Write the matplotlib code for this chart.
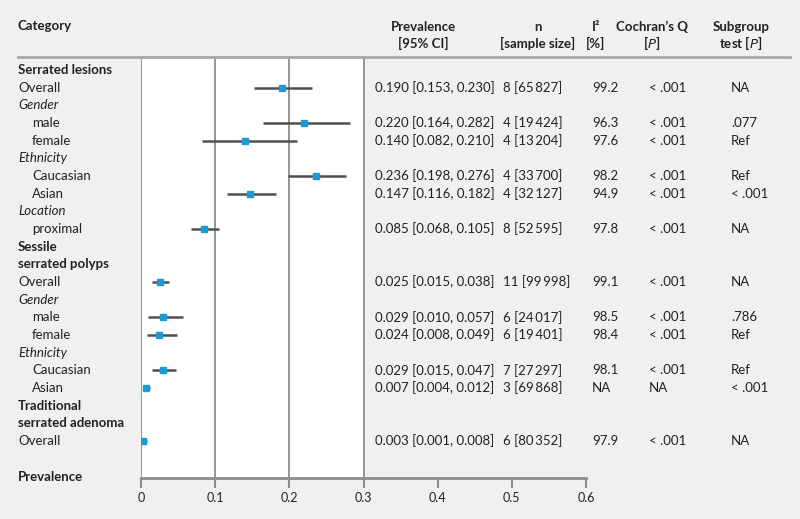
import matplotlib
matplotlib.use("Agg")
import matplotlib.pyplot as plt
import matplotlib.transforms as mtransforms
from matplotlib.lines import Line2D

plt.rcParams['font.family'] = ['Lato', 'DejaVu Sans']

# rows of the table: (label, kind); kind "item"/"sub" rows carry an estimate
rows = [("Serrated lesions", "head"), ("Overall", "item"), ("Gender", "group"),
        ("male", "sub"), ("female", "sub"), ("Ethnicity", "group"),
        ("Caucasian", "sub"), ("Asian", "sub"), ("Location", "group"),
        ("proximal", "sub"), ("Sessile", "head"), ("serrated polyps", "head"),
        ("Overall", "item"), ("Gender", "group"), ("male", "sub"),
        ("female", "sub"), ("Ethnicity", "group"), ("Caucasian", "sub"),
        ("Asian", "sub"), ("Traditional", "head"), ("serrated adenoma", "head"),
        ("Overall", "item")]

est = [0.190, 0.220, 0.140, 0.236, 0.147, 0.085, 0.025, 0.029, 0.024, 0.029, 0.007, 0.003]
lo = [0.153, 0.164, 0.082, 0.198, 0.116, 0.068, 0.015, 0.010, 0.008, 0.015, 0.004, 0.001]
hi = [0.230, 0.282, 0.210, 0.276, 0.182, 0.105, 0.038, 0.057, 0.049, 0.047, 0.012, 0.008]
n_txt = ["8 [65\u2009827]", "4 [19\u2009424]", "4 [13\u2009204]", "4 [33\u2009700]",
         "4 [32\u2009127]", "8 [52\u2009595]", "11 [99\u2009998]", "6 [24\u2009017]",
         "6 [19\u2009401]", "7 [27\u2009297]", "3 [69\u2009868]", "6 [80\u2009352]"]
i2_txt = ["99.2", "96.3", "97.6", "98.2", "94.9", "97.8", "99.1", "98.5", "98.4", "98.1", "NA", "97.9"]
q_txt = ["< .001"] * 10 + ["NA", "< .001"]
sub_txt = ["NA", ".077", "Ref", "Ref", "< .001", "NA", "NA", ".786", "Ref", "Ref", "< .001", "NA"]
xticks = [0, 0.1, 0.2, 0.3, 0.4, 0.5, 0.6]
xticklabels = ["0", "0.1", "0.2", "0.3", "0.4", "0.5", "0.6"]

txtc = "#222222"
gridc = "#8c8c8c"
blue = "#1a9ad6"

fig = plt.figure(figsize=(8, 5.19), dpi=100)
fig.patch.set_facecolor("#f0f0f0")
W, H = 800, 519
ax = fig.add_axes([141 / W, (H - 478) / H, 445 / W, (478 - 58) / H])
ax.set_facecolor("none")
ax.set_xlim(0, 0.6)
ax.set_ylim(21 + (478 - 441) / 17.67, -(70 - 58) / 17.67)

ax.axvspan(0, 0.3, color="white", zorder=0)
for xv in [0, 0.1, 0.2, 0.3]:
    ax.axvline(xv, color=gridc, lw=1.3, zorder=1)

for s in ["top", "right", "left"]:
    ax.spines[s].set_visible(False)
ax.spines["bottom"].set_color(gridc)
ax.spines["bottom"].set_linewidth(2)
ax.set_yticks([])
ax.set_xticks(xticks)
ax.set_xticklabels(xticklabels)
ax.tick_params(axis="x", direction="out", length=7, width=1.5, color=gridc,
               labelsize=9, labelcolor=txtc, pad=3)

tr = mtransforms.blended_transform_factory(fig.transFigure, ax.transData)
fs = 9.5
k = 0
for i, (lab, kind) in enumerate(rows):
    if kind == "head":
        ax.text(18 / W, i, lab, transform=tr, fontsize=fs, fontweight="bold",
                color=txtc, va="center", ha="left")
    elif kind == "group":
        ax.text(18 / W, i, lab, transform=tr, fontsize=fs, style="italic",
                color=txtc, va="center", ha="left")
    else:
        xlab = 18 if kind == "item" else 32
        ax.text(xlab / W, i, lab, transform=tr, fontsize=fs, color=txtc,
                va="center", ha="left")
        ax.plot([lo[k], hi[k]], [i, i], color="#505050", lw=1.8, zorder=3,
                solid_capstyle="butt")
        ax.plot(est[k], i, "s", color=blue, ms=5, zorder=4)
        ax.text(375 / W, i, f"{est[k]:.3f} [{lo[k]:.3f}, {hi[k]:.3f}]", transform=tr,
                fontsize=fs, color=txtc, va="center", ha="left")
        ax.text(503 / W, i, n_txt[k], transform=tr, fontsize=fs, color=txtc,
                va="center", ha="left")
        ax.text(592 / W, i, i2_txt[k], transform=tr, fontsize=fs, color=txtc,
                va="center", ha="left")
        ax.text(649 / W, i, q_txt[k], transform=tr, fontsize=fs, color=txtc,
                va="center", ha="left")
        ax.text(731 / W, i, sub_txt[k], transform=tr, fontsize=fs, color=txtc,
                va="center", ha="left")
        k += 1

ax.text(18 / W, 21 + (477 - 441) / 17.67, "Prevalence", transform=tr, fontsize=fs,
        fontweight="bold", color=txtc, va="center", ha="left")

# header
hdr = [(18, "Category", None, "left"),
       (423, "Prevalence", "[95% CI]", "center"),
       (538, "n", "[sample size]", "center"),
       (596, "I²", "[%]", "center"),
       (652, "Cochran’s Q", "[$\\mathbf{\\it{P}}$]", "center"),
       (741, "Subgroup", "test [$\\mathbf{\\it{P}}$]", "center")]
for x, t1, t2, ha in hdr:
    if t2 is None:
        fig.text(x / W, 1 - 26 / H, t1, fontsize=fs, fontweight="bold", color=txtc,
                 ha=ha, va="center")
    else:
        fig.text(x / W, 1 - 27 / H, t1, fontsize=fs, fontweight="bold", color=txtc,
                 ha=ha, va="center")
        fig.text(x / W, 1 - 43 / H, t2, fontsize=fs, fontweight="bold", color=txtc,
                 ha=ha, va="center")

fig.add_artist(Line2D([18 / W, 790 / W], [1 - 57 / H, 1 - 57 / H], color="#a8a8a8",
                      lw=2, transform=fig.transFigure))

fig.savefig("out.png", dpi=100, facecolor=fig.get_facecolor())
